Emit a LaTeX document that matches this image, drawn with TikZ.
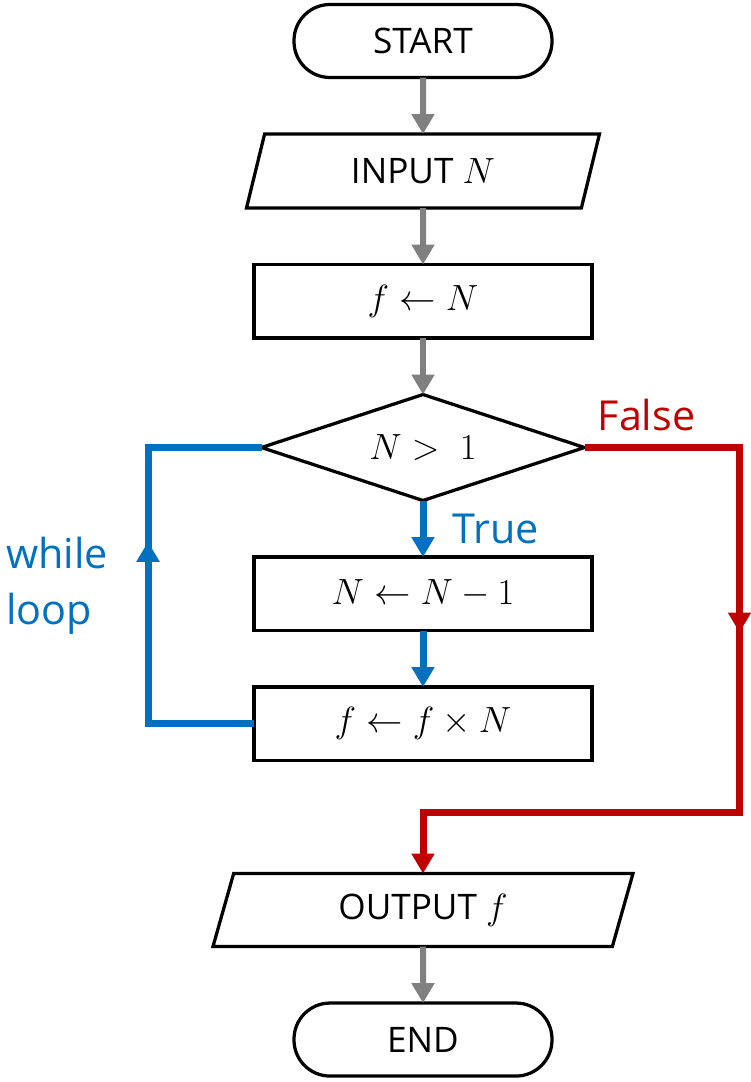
\documentclass[tikz,border=0pt]{standalone}
\usepackage{fontspec}
\setmainfont{Open Sans}
\usetikzlibrary{arrows.meta, positioning, shapes.geometric, decorations.markings}
\definecolor{loopblue}{RGB}{0,112,192}
\definecolor{falsered}{RGB}{192,0,0}
\begin{document}
\begin{tikzpicture}[node distance=1.13cm,
  font=\fontsize{20}{24}\selectfont,
  box/.style={draw, line width=1.85pt, outer sep=0pt, minimum width=6.76cm, minimum height=1.47cm},
  term/.style={box, rounded corners=0.72cm, minimum width=5.16cm, minimum height=1.46cm},
  io/.style={box, trapezium, trapezium stretches body, trapezium left angle=64, trapezium right angle=116, minimum width=7.06cm, minimum height=1.48cm},
  test/.style={box, diamond, aspect=3, inner sep=0pt, minimum width=6.46cm, minimum height=2.12cm},
  tip/.style={-{Triangle[width=0.44cm,length=0.4cm]}},
  flow/.style={tip, color=gray, line width=0.12cm},
  yes/.style={tip, color=loopblue, line width=0.14cm},
  no/.style={tip, color=falsered, line width=0.14cm},
  lbl/.style={font=\fontsize{23.5}{32}\selectfont},
  midtip/.style={postaction={decorate}, decoration={markings, mark=at position #1 with {\arrow{Triangle[width=0.44cm,length=0.4cm]}}}}]
\useasboundingbox (0,0) rectangle (15.02,-21.64);
\node[term] (START) at (8.46,-0.82) {START};
\node[io, below=of START] (IN) {INPUT $N$};
\node[box, below=of IN] (INIT) {$f \leftarrow N$};
\node[test, below=of INIT] (COND) {$N >\; 1$};
\node[box, below=of COND] (DEC) {$N \leftarrow N - 1$};
\node[box, below=of DEC] (MUL) {$f \leftarrow f \times N$};
\node[io, trapezium left angle=65, trapezium right angle=115, minimum width=8.4cm, minimum height=1.46cm, below=2.26cm of MUL] (OUT) {OUTPUT $f$};
\node[term, below=of OUT] (END) {END};
\coordinate[above=1.22cm of OUT] (JOIN);
\draw[flow] (START) -- (IN);
\draw[flow] (IN) -- (INIT);
\draw[flow] (INIT) -- (COND);
\draw[flow] (OUT) -- (END);
\draw[yes] (COND) -- node[lbl, right=0.4cm] {True} (DEC);
\draw[yes] (DEC) -- (MUL);
\draw[yes, -, midtip=5.76cm] (MUL.west) -- ++(-2.12,0) |- node[lbl, pos=0.25, left=0.62cm, align=left] {while\\loop} (COND.west);
\draw[no, midtip=6.8cm] (COND.east) -- node[lbl, pos=0.4, above=0.14cm] {False} ++(3.1,0) |- (JOIN) -- (OUT.north);
\end{tikzpicture}
\end{document}
